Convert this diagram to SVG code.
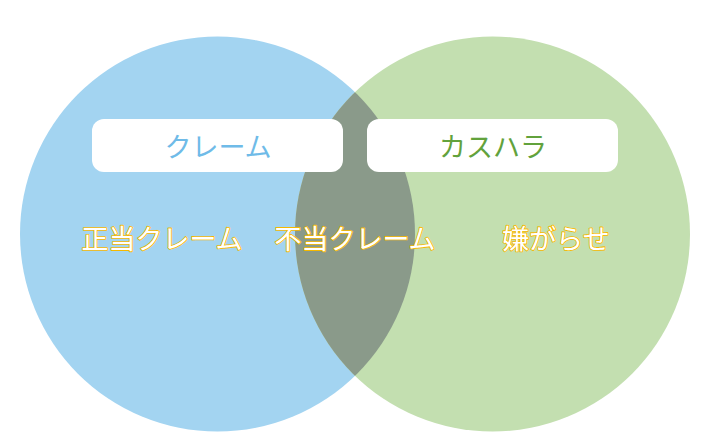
<svg xmlns="http://www.w3.org/2000/svg" width="723" height="436" viewBox="0 0 723 436">
<style>
.lbl{font-family:"Noto Sans CJK JP","Noto Sans",sans-serif;font-size:27px;text-anchor:middle}
.out{fill:#ffffff;stroke:#f5b800;stroke-width:1.7px;paint-order:stroke;stroke-linejoin:round}
.box{fill:#ffffff}
</style>
<defs>
<clipPath id="rc"><circle cx="492.5" cy="234" r="197.5"/></clipPath>
</defs>
<rect width="723" height="436" fill="#ffffff"/>
<g id="claim-circle"><circle cx="217.5" cy="234" r="197.5" fill="#a3d4f1"/></g>
<g id="kasuhara-circle"><circle cx="492.5" cy="234" r="197.5" fill="#c3dfb0"/></g>
<g id="overlap"><circle cx="217.5" cy="234" r="197.5" fill="#8a9a8a" clip-path="url(#rc)"/></g>
<g id="claim-title">
<rect class="box" x="92" y="119" width="251" height="53" rx="12"/>
<text class="lbl" x="218" y="157" fill="#6fbbe8">クレーム</text>
</g>
<g id="kasuhara-title">
<rect class="box" x="367" y="119" width="251" height="53" rx="12"/>
<text class="lbl" x="493" y="157" fill="#62a23c">カスハラ</text>
</g>
<g id="legit"><text class="lbl out" x="162" y="249">正当クレーム</text></g>
<g id="unjust"><text class="lbl out" x="355" y="249">不当クレーム</text></g>
<g id="harass"><text class="lbl out" x="556" y="249">嫌がらせ</text></g>
<g id="connectors"></g>
</svg>
